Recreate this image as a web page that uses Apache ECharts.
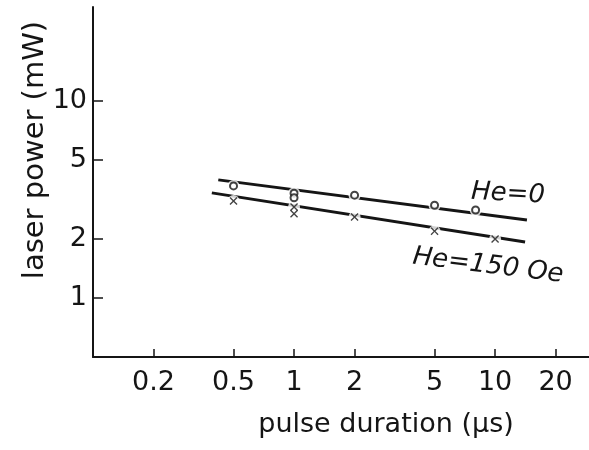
<!DOCTYPE html>
<html>
<head>
<meta charset="utf-8">
<script src="https://cdn.jsdelivr.net/npm/echarts@6/dist/echarts.min.js"></script>
<style>
  html, body { margin: 0; padding: 0; background: #fff; }
  #main { width: 589px; height: 450px; }
</style>
</head>
<body>
<div id="main"></div>
<script>
// pulse duration (us) / laser power (mW), both
var xTicks = [0.2, 0.5, 1, 2, 5, 10, 20];
var yTicks = [1, 2, 5, 10];

var dur0 = [0.5, 1, 1, 2, 5, 8];
var pow0 = [3.70, 3.40, 3.22, 3.32, 2.95, 2.79];
var dur150 = [0.5, 1, 1, 2, 5, 10];
var pow150 = [3.10, 2.89, 2.67, 2.57, 2.18, 1.99];

// fitted straight lines (end points)
var fitDur0 = [0.42, 14.4];
var fitPow0 = [3.97, 2.48];
var fitDur150 = [0.39, 14.1];
var fitPow150 = [3.41, 1.92];

var ink = '#151515';
var font = 'DejaVu Sans';

function lg(v) { return Math.log10(v); }
function pairs(xs, ys) {
  return xs.map(function (x, i) { return [lg(x), lg(ys[i])]; });
}
function fmt(v) {
  return String(parseFloat(Math.pow(10, v).toPrecision(2)));
}

var cross = 'path://M0,1.2L1.2,0L5,3.8L8.8,0L10,1.2L6.2,5L10,8.8L8.8,10L5,6.2L1.2,10L0,8.8L3.8,5Z';

var chart = echarts.init(document.getElementById('main'), null, { renderer: 'canvas' });

var option = {
  backgroundColor: '#fff',
  animation: false,
  grid: { left: 93, top: 7, right: -2, bottom: 93, outerBoundsMode: 'none' },
  xAxis: {
    type: 'value',
    min: lg(0.1),
    max: lg(30),
    splitLine: { show: false },
    axisLine: { onZero: false, lineStyle: { color: ink, width: 2 } },
    axisTick: {
      inside: true, length: 8,
      lineStyle: { color: ink, width: 1.5 },
      customValues: xTicks.map(lg)
    },
    axisLabel: {
      margin: 12,
      color: ink, fontFamily: font, fontSize: 27,
      customValues: xTicks.map(lg),
      formatter: fmt
    }
  },
  yAxis: {
    type: 'value',
    min: lg(0.5),
    max: lg(30),
    splitLine: { show: false },
    axisLine: { onZero: false, lineStyle: { color: ink, width: 2 } },
    axisTick: {
      inside: true, length: 10,
      lineStyle: { color: ink, width: 1.5 },
      customValues: yTicks.map(lg)
    },
    axisLabel: {
      margin: 6,
      color: ink, fontFamily: font, fontSize: 27,
      customValues: yTicks.map(lg),
      formatter: fmt
    }
  },
  series: [
    {
      type: 'line', z: 2, symbol: 'none',
      data: pairs(fitDur0, fitPow0),
      lineStyle: { color: ink, width: 3 }
    },
    {
      type: 'line', z: 2, symbol: 'none',
      data: pairs(fitDur150, fitPow150),
      lineStyle: { color: ink, width: 3 }
    },
    // small white gaps in the lines around each point
    {
      type: 'scatter', z: 3, symbol: 'circle', symbolSize: 12,
      data: pairs(dur0, pow0).concat(pairs(dur150, pow150)),
      itemStyle: { color: '#fff' }
    },
    {
      type: 'scatter', z: 4, symbol: 'emptyCircle', symbolSize: 7,
      data: pairs(dur0, pow0),
      itemStyle: { color: ink, borderColor: ink, borderWidth: 1.5 }
    },
    {
      type: 'scatter', z: 4, symbol: cross, symbolSize: 8,
      data: pairs(dur150, pow150),
      itemStyle: { color: ink }
    }
  ],
  graphic: [
    {
      type: 'text', x: 35, y: 150, rotation: Math.PI / 2,
      style: { text: 'laser power (mW)', fontFamily: font, fontSize: 29, fill: ink, align: 'center', verticalAlign: 'middle' }
    },
    {
      type: 'text', x: 386, y: 425,
      style: { text: 'pulse duration (\u03bcs)', fontFamily: font, fontSize: 27, fill: ink, align: 'center', verticalAlign: 'middle' }
    },
    {
      type: 'text', x: 508, y: 194, rotation: -3 * Math.PI / 180,
      style: { text: 'He=0', fontFamily: font, fontStyle: 'italic', fontSize: 26, fill: ink, align: 'center', verticalAlign: 'middle' }
    },
    {
      type: 'text', x: 488, y: 266, rotation: -7 * Math.PI / 180,
      style: { text: 'He=150 Oe', fontFamily: font, fontStyle: 'italic', fontSize: 26, fill: ink, align: 'center', verticalAlign: 'middle' }
    }
  ]
};

chart.setOption(option);
</script>
</body>
</html>
